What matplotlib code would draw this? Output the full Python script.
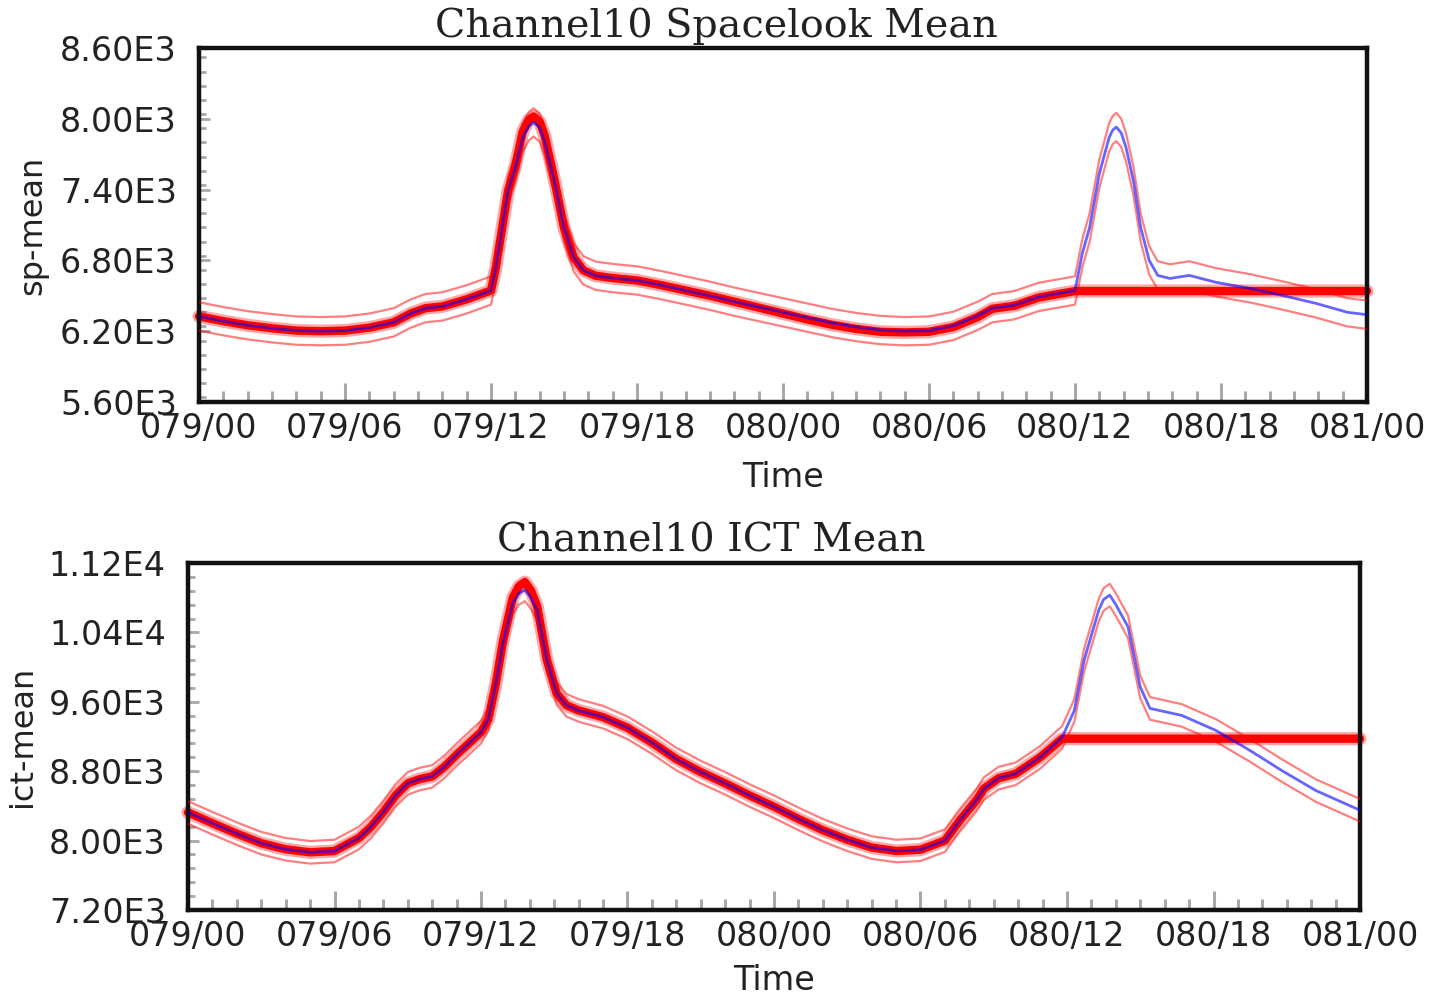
import matplotlib
matplotlib.use("Agg")
import matplotlib.pyplot as plt
import numpy as np
from matplotlib.ticker import FixedLocator, FixedFormatter, MultipleLocator

# ---------------- data ----------------
x_tick_pos = [0, 6, 12, 18, 24, 30, 36, 42, 48]
x_tick_labels = ["079/00", "079/06", "079/12", "079/18", "080/00",
                 "080/06", "080/12", "080/18", "081/00"]

# Spacelook mean (hours since 079/00)
sp_hours = [0, 1, 2, 3, 4, 5, 6, 7, 8, 8.7, 9.3, 10, 11, 12, 12.2, 12.4, 12.7,
            13, 13.3, 13.55, 13.75, 14.0, 14.2, 14.6, 15, 15.4, 15.8, 16.3, 17,
            18, 19, 20, 21, 22, 23, 24, 25, 26, 27, 28, 29, 30, 31, 32, 32.6,
            33.5, 34.5, 36, 36.3, 36.6, 37.0, 37.4, 37.55, 37.7, 37.9, 38.1,
            38.4, 38.7, 39.05, 39.4, 39.9, 40.7, 41.8, 43.2, 44.5, 45.9, 47.2,
            48]
sp_model = [6325, 6285, 6250, 6225, 6205, 6200, 6205, 6230, 6275, 6350, 6395,
            6410, 6470, 6545, 6740, 7000, 7390, 7586, 7840, 7935, 7970, 7925,
            7814, 7476, 7078, 6825, 6715, 6670, 6650, 6630, 6590, 6545, 6500,
            6450, 6405, 6360, 6315, 6270, 6235, 6210, 6200, 6205, 6245, 6330,
            6395, 6420, 6490, 6545, 6860, 7078, 7535, 7840, 7905, 7930, 7880,
            7755, 7476, 7078, 6800, 6673, 6647, 6673, 6614, 6563, 6504, 6436,
            6360, 6340]
sp_obs_hours = [0, 1, 2, 3, 4, 5, 6, 7, 8, 8.7, 9.3, 10, 11, 12, 12.2, 12.4,
                12.7, 13, 13.3, 13.55, 13.75, 14.0, 14.2, 14.6, 15, 15.4, 15.8,
                16.3, 17, 18, 19, 20, 21, 22, 23, 24, 25, 26, 27, 28, 29, 30,
                31, 32, 32.6, 33.5, 34.5, 36, 48]
sp_obs = [6325, 6285, 6250, 6225, 6205, 6200, 6205, 6230, 6275, 6350, 6395,
          6410, 6470, 6545, 6740, 7000, 7390, 7600, 7890, 7990, 8020, 7975,
          7860, 7490, 7078, 6825, 6715, 6670, 6650, 6630, 6590, 6545, 6500,
          6450, 6400, 6350, 6300, 6255, 6220, 6195, 6190, 6195, 6235, 6320,
          6390, 6415, 6485, 6540, 6540]
sp_band = 120

# ICT mean
ict_hours = [0, 1, 2, 3, 4, 5, 6, 7, 7.5, 8, 8.5, 9, 9.5, 10, 10.5, 11, 11.5,
             12, 12.3, 12.6, 12.9, 13.3, 13.55, 13.8, 14.05, 14.3, 14.7, 15.1,
             15.5, 16, 17, 18, 19, 20, 21, 22, 23, 24, 25, 26, 27, 28, 29, 30,
             31, 31.6, 32.3, 32.6, 33.2, 33.9, 34.9, 35.8, 36.3, 36.7, 37.3,
             37.5, 37.75, 38.0, 38.5, 39, 39.4, 40.7, 42.1, 43.5, 44.8, 46.2,
             48]
ict_model = [8325, 8200, 8080, 7970, 7900, 7865, 7880, 8030, 8160, 8330, 8520,
             8660, 8710, 8740, 8850, 8990, 9120, 9250, 9400, 9800, 10275,
             10737, 10850, 10890, 10800, 10657, 10079, 9697, 9560, 9500, 9423,
             9300, 9130, 8940, 8790, 8660, 8520, 8390, 8250, 8120, 8010, 7920,
             7880, 7895, 8000, 8230, 8470, 8600, 8720, 8770, 8960, 9190, 9500,
             10079, 10657, 10780, 10830, 10720, 10464, 9770, 9524, 9443, 9270,
             9038, 8807, 8576, 8350]
ict_obs_hours = [0, 1, 2, 3, 4, 5, 6, 7, 7.5, 8, 8.5, 9, 9.5, 10, 10.5, 11,
                 11.5, 12, 12.3, 12.6, 12.9, 13.3, 13.55, 13.8, 14.05, 14.3,
                 14.7, 15.1, 15.5, 16, 17, 18, 19, 20, 21, 22, 23, 24, 25, 26,
                 27, 28, 29, 30, 31, 31.6, 32.3, 32.6, 33.2, 33.9, 34.9, 35.8,
                 48]
ict_obs = [8325, 8200, 8080, 7970, 7900, 7865, 7880, 8030, 8160, 8330, 8520,
           8660, 8710, 8740, 8850, 8990, 9120, 9250, 9400, 9800, 10300, 10800,
           10930, 10980, 10880, 10700, 10079, 9697, 9560, 9500, 9423, 9300,
           9130, 8940, 8790, 8660, 8520, 8390, 8250, 8120, 8010, 7920, 7880,
           7895, 8000, 8230, 8470, 8600, 8720, 8770, 8960, 9175, 9175]
ict_band = 130

panels = [
    dict(title="Channel10 Spacelook Mean", ylabel="sp-mean",
         hours=sp_hours, model=sp_model, obs_hours=sp_obs_hours, obs=sp_obs,
         band=sp_band, ylim=(5600, 8600),
         yticks=[5600, 6200, 6800, 7400, 8000, 8600],
         ylabels=["5.60E3", "6.20E3", "6.80E3", "7.40E3", "8.00E3", "8.60E3"],
         yminor=120, rect=[199/1435, 1-402/999, 1168/1435, 354/999],
         title_x=(716-199)/1168, xlabelpad=12),
    dict(title="Channel10 ICT Mean", ylabel="ict-mean",
         hours=ict_hours, model=ict_model, obs_hours=ict_obs_hours, obs=ict_obs,
         band=ict_band, ylim=(7200, 11200),
         yticks=[7200, 8000, 8800, 9600, 10400, 11200],
         ylabels=["7.20E3", "8.00E3", "8.80E3", "9.60E3", "1.04E4", "1.12E4"],
         yminor=160, rect=[188/1435, 1-910/999, 1172/1435, 347/999],
         title_x=(711-188)/1172, xlabelpad=8),
]

fig = plt.figure(figsize=(14.35, 9.99), dpi=100)
FS = 24

for p in panels:
    ax = fig.add_axes(p["rect"])
    h = np.array(p["hours"], dtype=float)
    m = np.array(p["model"], dtype=float)
    # observations: thick red trace (halo + core)
    ax.plot(p["obs_hours"], p["obs"], color="red", lw=9.5, alpha=0.35,
            solid_capstyle="round", solid_joinstyle="round", clip_on=False,
            zorder=2)
    ax.plot(p["obs_hours"], p["obs"], color="red", lw=6, alpha=1.0,
            solid_capstyle="round", solid_joinstyle="round", clip_on=False,
            zorder=2)
    # uncertainty band lines
    ax.plot(h, m + p["band"], color="red", lw=1.6, alpha=0.5, zorder=3)
    ax.plot(h, m - p["band"], color="red", lw=1.6, alpha=0.5, zorder=3)
    # model
    ax.plot(h, m, color="blue", lw=2.0, alpha=0.6, zorder=4)

    ax.set_xlim(0, 48)
    ax.set_ylim(*p["ylim"])
    ax.xaxis.set_major_locator(FixedLocator(x_tick_pos))
    ax.xaxis.set_major_formatter(FixedFormatter(x_tick_labels))
    ax.xaxis.set_minor_locator(MultipleLocator(1))
    ax.yaxis.set_major_locator(FixedLocator(p["yticks"]))
    ax.yaxis.set_major_formatter(FixedFormatter(p["ylabels"]))
    ax.yaxis.set_minor_locator(MultipleLocator(p["yminor"]))

    ax.tick_params(axis="x", which="major", direction="in", length=14,
                   width=2.2, color="#a8a8a8", labelsize=FS, pad=7,
                   labelcolor="#222222", top=False)
    ax.tick_params(axis="x", which="minor", direction="in", length=8,
                   width=2.2, color="#a8a8a8", top=False)
    ax.tick_params(axis="y", which="major", direction="in", length=8,
                   width=2.0, color="#a8a8a8", labelsize=FS, pad=16,
                   labelcolor="#222222", right=False)
    ax.tick_params(axis="y", which="minor", direction="in", length=5,
                   width=2.0, color="#a8a8a8", right=False)
    for s in ax.spines.values():
        s.set_linewidth(3.2)
        s.set_color("#111111")

    ax.set_title(p["title"], family="DejaVu Serif", fontsize=28.5,
                 color="#222222", pad=8, x=p["title_x"])
    ax.set_xlabel("Time", fontsize=FS, color="#222222",
                  labelpad=p["xlabelpad"])
    ax.set_ylabel(p["ylabel"], fontsize=FS - 1, color="#222222", labelpad=8)

fig.savefig("out.png", dpi=100)
